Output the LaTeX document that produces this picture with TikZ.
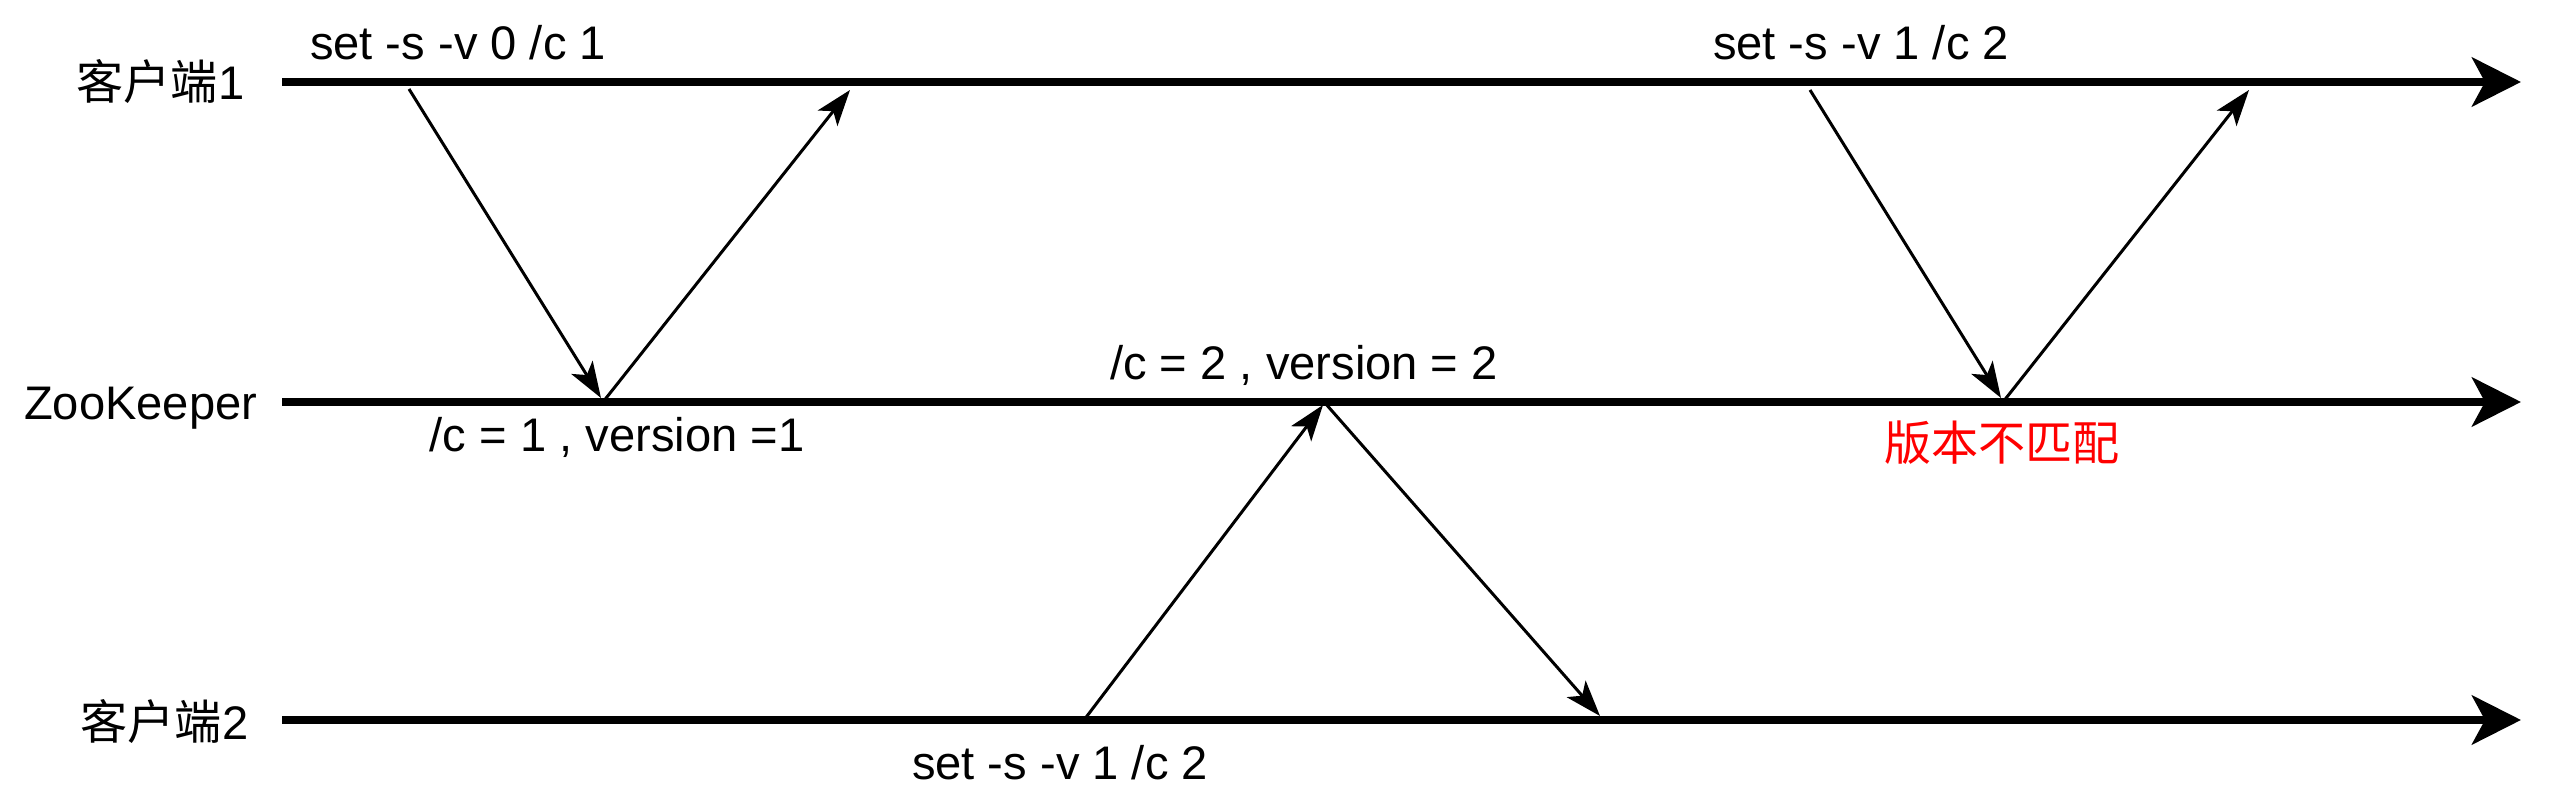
\documentclass[tikz,border=0pt]{standalone}
\usepackage{fontspec}
\usepackage{tikz}
\usetikzlibrary{arrows.meta}
\setmainfont{Liberation Sans}
\newfontfamily\cjk{Noto Sans CJK SC}
\definecolor{mismatchred}{HTML}{FF0000}
\tikzset{
	txt/.style={inner sep=0pt, font=\fontsize{13.4}{16}\selectfont},
	timeline/.style={line width=0.08cm, -{Stealth[length=0.49cm, width=0.49cm, inset=0.13cm]}},
	msg/.style={line width=0.03cm, -{Stealth[length=0.36cm, width=0.25cm, inset=0.09cm]}},
}

\begin{document}
\begin{tikzpicture}[x=0.01cm, y=-0.01cm]
	\useasboundingbox (0,0) rectangle (2560,804);
	
	% participants
	\node[txt, anchor=base east] (c1) at (245,100) {{\cjk 客户端}1};
	\node[txt, anchor=base east] (zk) at (258,420) {ZooKeeper};
	\node[txt, anchor=base east] (c2) at (249,740) {{\cjk 客户端}2};
	
	% time lines
	\foreach \n/\y in {c1/82, zk/402, c2/720}{
		\coordinate (\n s) at (282,\y);
		\coordinate (\n e) at (2521,\y);
		\draw[timeline] (\n s) -- (\n e);
	}
	
	% message points
	\coordinate (a1) at (409,89);
	\coordinate (a2) at (601,398);
	\coordinate (a3) at (603,402);
	\coordinate (a4) at (850,90);
	\coordinate (b1) at (1810,90);
	\coordinate (b2) at (2001,398);
	\coordinate (b3) at (2003,402);
	\coordinate (b4) at (2249,90);
	\coordinate (d1) at (1084,720);
	\coordinate (d2) at (1323,405);
	\coordinate (d3) at (1325,403);
	\coordinate (d4) at (1600,716);
	
	\draw[msg] (a1) -- (a2);
	\draw[msg] (a3) -- (a4);
	\draw[msg] (b1) -- (b2);
	\draw[msg] (b3) -- (b4);
	\draw[msg] (d1) -- (d2);
	\draw[msg] (d3) -- (d4);
	
	% labels
	\node[txt, anchor=base] (set0) at (458,60) {set -s -v 0 /c 1};
	\node[txt, anchor=base] (ver1) at (617,452) {/c = 1 , version =1};
	\node[txt, anchor=base] (set1) at (1861,60) {set -s -v 1 /c 2};
	\node[txt, anchor=base] (ver2) at (1304,380) {/c = 2 , version = 2};
	\node[txt, anchor=base] (set2) at (1060,780) {set -s -v 1 /c 2};
	\node[txt, anchor=center, color=mismatchred] (fail) at (2002,443) {\cjk 版本不匹配};
\end{tikzpicture}
\end{document}
